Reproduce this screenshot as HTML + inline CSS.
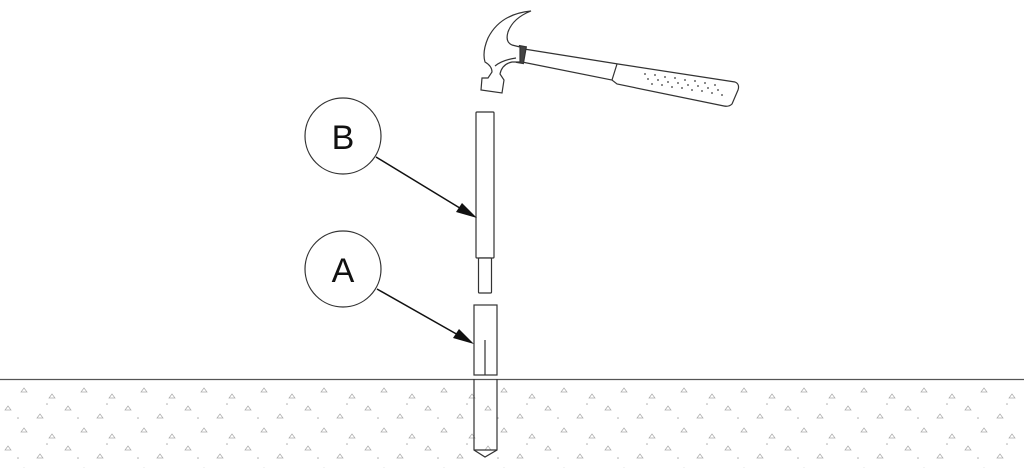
<!DOCTYPE html>
<html><head><style>html,body{margin:0;padding:0;background:#fff}svg{display:block}</style></head>
<body>
<svg width="1024" height="468" viewBox="0 0 1024 468" xmlns="http://www.w3.org/2000/svg">
<defs>
<pattern id="dots" width="60" height="40" patternUnits="userSpaceOnUse">
<path d="M8 6l3 4h-6z M40 14l3 4h-6z M24 28l3 4h-6z M52 34l3 4h-6z" fill="none" stroke="#aaa" stroke-width="0.7"/>
<circle cx="18" cy="18" r="0.8" fill="#aaa"/><circle cx="47" cy="4" r="0.8" fill="#aaa"/>
</pattern>
</defs>
<rect x="0" y="380" width="1024" height="88" fill="url(#dots)"/>
<line x1="0" y1="379.5" x2="1024" y2="379.5" stroke="#555" stroke-width="1.2"/>
<g fill="#fff" stroke="#333" stroke-width="1.2">
<!-- hammer handle -->
<path d="M524 49 L618 64 L735 82 Q740 84 738 90 L732 104 Q729 107 724 106 L617 84 L612 80 L522 62 Z"/>
<path d="M617 64 L612 80" fill="none"/>
<rect x="518" y="46" width="7" height="17" transform="rotate(10 521 54)" fill="#444"/>
<!-- hammer head -->
<path d="M531 11 Q500 14 488 38 Q482 52 485 62 Q492 66 492 72 L488 78 L482 78 L481 90 L502 93 L504 80 L500 74 Q502 64 512 62 L520 62 L520 47 L512 45 Q505 42 508 32 Q513 18 531 11 Z"/>
<path d="M495 66 Q502 60 516 58" fill="none"/>
</g>
<g fill="#666">
<circle cx="645" cy="74" r="1"/><circle cx="655" cy="75" r="1"/><circle cx="665" cy="77" r="1"/><circle cx="675" cy="78" r="1"/><circle cx="685" cy="80" r="1"/><circle cx="695" cy="81" r="1"/><circle cx="705" cy="83" r="1"/><circle cx="715" cy="85" r="1"/>
<circle cx="648" cy="79" r="1"/><circle cx="658" cy="80" r="1"/><circle cx="668" cy="82" r="1"/><circle cx="678" cy="83" r="1"/><circle cx="688" cy="85" r="1"/><circle cx="698" cy="86" r="1"/><circle cx="708" cy="88" r="1"/><circle cx="718" cy="90" r="1"/>
<circle cx="652" cy="84" r="1"/><circle cx="662" cy="85" r="1"/><circle cx="672" cy="87" r="1"/><circle cx="682" cy="88" r="1"/><circle cx="692" cy="90" r="1"/><circle cx="702" cy="91" r="1"/><circle cx="712" cy="93" r="1"/><circle cx="722" cy="95" r="1"/>
</g>
<g fill="#fff" stroke="#333" stroke-width="1.2">
<!-- rod B -->
<rect x="476" y="112" width="18" height="146" rx="1"/>
<rect x="478.5" y="258" width="13" height="35" rx="1"/>
<!-- anchor A -->
<rect x="474" y="305" width="23" height="70"/>
<path d="M474 379 L474 450 L485 457 L497 450 L497 379" fill="none"/>
<line x1="474" y1="450" x2="497" y2="450"/>
<line x1="485" y1="340" x2="485" y2="375"/>
<!-- circles -->
<circle cx="343" cy="136" r="38"/>
<circle cx="343" cy="269" r="38"/>
</g>
<g stroke="#111" stroke-width="1.5">
<line x1="376" y1="157" x2="468" y2="213"/>
<line x1="377" y1="289" x2="467" y2="340"/>
</g>
<path d="M477 218 L456 212 L462 203 Z" fill="#111"/>
<path d="M474 344 L453 338 L459 329 Z" fill="#111"/>
<g font-family="Liberation Sans, sans-serif" font-size="34" text-anchor="middle" fill="#111">
<text x="343" y="149">B</text>
<text x="343" y="282">A</text>
</g>
</svg>
</body></html>
